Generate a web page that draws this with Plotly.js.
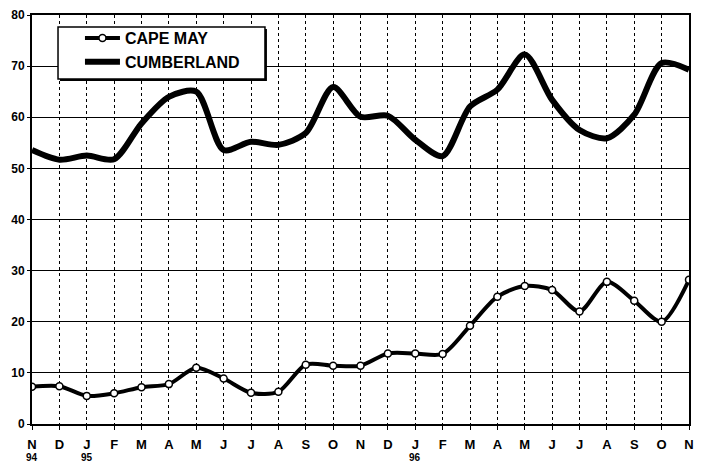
<!DOCTYPE html>
<html>
<head>
<meta charset="utf-8">
<script src="https://cdn.plot.ly/plotly-3.0.1.min.js"></script>
<style>html,body{margin:0;padding:0;background:#fff;}#chart{width:709px;height:464px;}</style>
</head>
<body>
<div id="chart"></div>
<script>
const months = ["N","D","J","F","M","A","M","J","J","A","S","O","N","D","J","F","M","A","M","J","J","A","S","O","N"];
const yearLabels = ["94","95","96"];
const yearPositions = [0, 2, 14];
const capeMay = [7.3,7.4,5.5,6.0,7.2,7.8,11.0,8.9,6.1,6.3,11.6,11.4,11.4,13.8,13.8,13.7,19.2,24.9,27.0,26.2,22.0,27.8,24.1,20.0,28.2];
const cumberland = [53.6,51.7,52.5,51.8,58.8,64.0,65.0,53.6,55.2,54.6,56.9,65.9,60.1,60.3,55.6,52.4,62.1,65.4,72.3,63.4,57.5,55.9,60.5,70.6,69.3];

const xs = months.map((_, i) => i);
const fontFam = "Liberation Sans, Arial, sans-serif";

const traces = [
  {
    x: xs, y: capeMay, name: "CAPE MAY", type: "scatter", mode: "lines+markers",
    line: {color: "#000", width: 4, shape: "spline", smoothing: 0.8},
    marker: {symbol: "circle", size: 7, color: "#fff", line: {color: "#000", width: 1.5}}
  },
  {
    x: xs, y: cumberland, name: "CUMBERLAND", type: "scatter", mode: "lines",
    line: {color: "#000", width: 6, shape: "spline", smoothing: 0.8}
  }
];

const annotations = yearLabels.map((t, i) => ({
  x: yearPositions[i], xref: "x", y: 0, yref: "paper", yshift: -40,
  text: t, showarrow: false, xanchor: "center", yanchor: "bottom", borderpad: 0,
  font: {family: fontFam, size: 10, color: "#000", weight: "bold"}
}));

// legend frame (white box with dark drop shadow)
const shapes = [
  {type: "rect", xref: "paper", yref: "paper", x0: 0.0426, x1: 0.3576, y0: 0.8386, y1: 0.9658,
   fillcolor: "#000", line: {width: 0}, layer: "above"},
  {type: "rect", xref: "paper", yref: "paper", x0: 0.0396, x1: 0.3546, y0: 0.8435, y1: 0.9707,
   fillcolor: "#fff", line: {color: "#000", width: 1.5}, layer: "above"}
];

const layout = {
  width: 709, height: 464,
  margin: {l: 32, r: 20, t: 15, b: 40},
  paper_bgcolor: "#fff", plot_bgcolor: "#fff",
  showlegend: true,
  legend: {
    x: 0.073, y: 0.985, xanchor: "left", yanchor: "top",
    bgcolor: "rgba(0,0,0,0)", borderwidth: 0,
    font: {family: fontFam, size: 16, color: "#000", weight: "bold"},
    itemwidth: 35, tracegroupgap: 0
  },
  xaxis: {
    range: [0, 24], tickmode: "array", tickvals: xs, ticktext: months,
    showgrid: true, gridcolor: "#000", gridwidth: 1, griddash: "dot",
    showline: true, linecolor: "#000", linewidth: 2, mirror: true,
    ticks: "outside", ticklen: 4, tickcolor: "#000", ticklabelstandoff: 3,
    zeroline: false,
    tickfont: {family: fontFam, size: 13, color: "#000", weight: "bold"}
  },
  yaxis: {
    range: [0, 80], tickmode: "array", tickvals: [0,10,20,30,40,50,60,70,80],
    showgrid: true, gridcolor: "#000", gridwidth: 1,
    showline: true, linecolor: "#000", linewidth: 2, mirror: true,
    ticks: "outside", ticklen: 3, tickcolor: "#000",
    zeroline: false,
    tickfont: {family: fontFam, size: 12, color: "#000", weight: "bold"}
  },
  shapes: shapes,
  annotations: annotations
};

Plotly.newPlot("chart", traces, layout, {staticPlot: true, displayModeBar: false});
</script>
</body>
</html>
